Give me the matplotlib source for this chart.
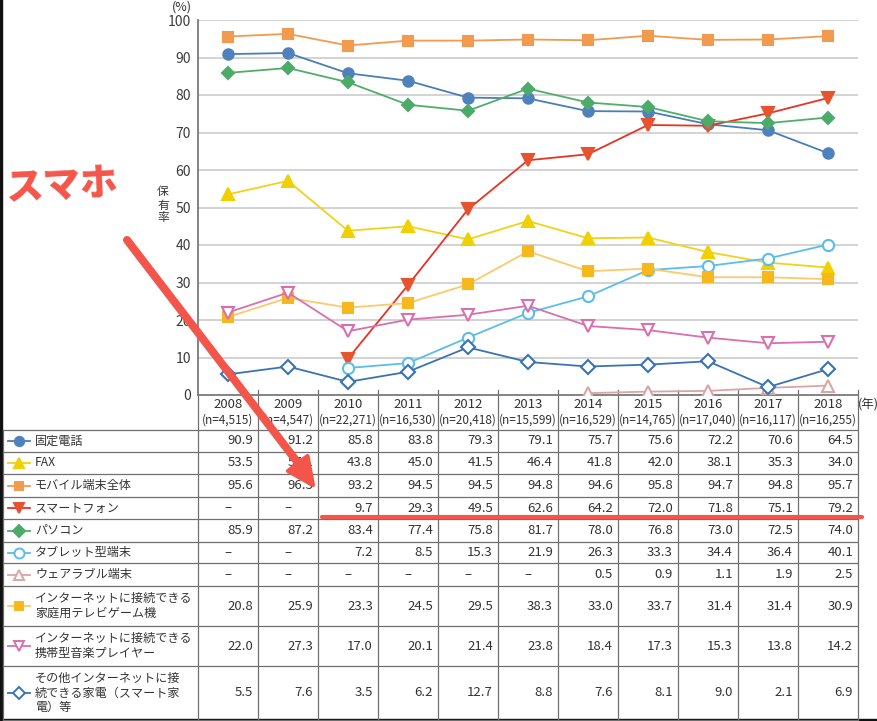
import numpy as np
import matplotlib
matplotlib.use('Agg')
import matplotlib.pyplot as plt
from matplotlib.patches import Polygon

plt.rcParams['font.family'] = ['Noto Sans CJK JP', 'DejaVu Sans']

# data
years = [2008, 2009, 2010, 2011, 2012, 2013, 2014, 2015, 2016, 2017, 2018]
sample_n = ['4,515', '4,547', '22,271', '16,530', '20,418', '15,599',
            '16,529', '14,765', '17,040', '16,117', '16,255']
nan = np.nan
fixed_phone = [90.9, 91.2, 85.8, 83.8, 79.3, 79.1, 75.7, 75.6, 72.2, 70.6, 64.5]
fax = [53.5, 57.1, 43.8, 45.0, 41.5, 46.4, 41.8, 42.0, 38.1, 35.3, 34.0]
mobile_all = [95.6, 96.3, 93.2, 94.5, 94.5, 94.8, 94.6, 95.8, 94.7, 94.8, 95.7]
smartphone = [nan, nan, 9.7, 29.3, 49.5, 62.6, 64.2, 72.0, 71.8, 75.1, 79.2]
pc = [85.9, 87.2, 83.4, 77.4, 75.8, 81.7, 78.0, 76.8, 73.0, 72.5, 74.0]
tablet = [nan, nan, 7.2, 8.5, 15.3, 21.9, 26.3, 33.3, 34.4, 36.4, 40.1]
wearable = [nan, nan, nan, nan, nan, nan, 0.5, 0.9, 1.1, 1.9, 2.5]
game = [20.8, 25.9, 23.3, 24.5, 29.5, 38.3, 33.0, 33.7, 31.4, 31.4, 30.9]
music = [22.0, 27.3, 17.0, 20.1, 21.4, 23.8, 18.4, 17.3, 15.3, 13.8, 14.2]
other = [5.5, 7.6, 3.5, 6.2, 12.7, 8.8, 7.6, 8.1, 9.0, 2.1, 6.9]

labels = ['固定電話', 'FAX', 'モバイル端末全体', 'スマートフォン', 'パソコン',
          'タブレット型端末', 'ウェアラブル端末',
          'インターネットに接続できる\n家庭用テレビゲーム機',
          'インターネットに接続できる\n携帯型音楽プレイヤー',
          'その他インターネットに接\n続できる家電（スマート家\n電）等']
series = [fixed_phone, fax, mobile_all, smartphone, pc, tablet, wearable,
          game, music, other]

# style per series: line colour, marker, marker face, marker edge, size
styles = [
    ('#4a7ebb', 'o', '#4f81bd', '#4f81bd', 7.5),
    ('#f0d21a', '^', '#f0d000', '#f0d000', 8),
    ('#f19a50', 's', '#f29a4e', '#f29a4e', 7),
    ('#e63422', 'v', '#e8532f', '#e8532f', 8),
    ('#4fae69', 'D', '#4dab6a', '#4dab6a', 6.5),
    ('#5bbde8', 'o', 'white', '#5bbde8', 8),
    ('#dba5a5', '^', 'white', '#dba5a5', 8),
    ('#fcc96b', 's', '#f7b81e', '#f7b81e', 7),
    ('#d96fae', 'v', 'white', '#d96fae', 8),
    ('#3a73b4', 'D', 'white', '#3a73b4', 7),
]

W, H = 877, 721
fig = plt.figure(figsize=(W / 100, H / 100), dpi=100)

# background axes in pixel coordinates for the table
bg = fig.add_axes([0, 0, 1, 1])
bg.set_xlim(0, W)
bg.set_ylim(H, 0)
bg.axis('off')

x0, x1 = 198, 858
colw = 60
y_top, y_bot = 20, 395
ax = fig.add_axes([x0 / W, (H - y_bot) / H, (x1 - x0) / W, (y_bot - y_top) / H])
ax.patch.set_alpha(0)
ax.set_xlim(2007.5, 2018.5)
ax.set_ylim(0, 100)
for s in ['top', 'right']:
    ax.spines[s].set_visible(False)
for s in ['left', 'bottom']:
    ax.spines[s].set_color('#7a7a7a')
    ax.spines[s].set_linewidth(1.3)
ax.set_xticks([])
ax.set_yticks(range(0, 101, 10))
ax.tick_params(axis='y', length=0, pad=5, labelsize=10, labelcolor='#3c3c3c')
for g in range(10, 101, 10):
    ax.axhline(g, color='#cccccc', lw=1.2, zorder=0)

for vals, (lc, mk, mfc, mec, ms) in zip(series, styles):
    ax.plot(years, vals, color=lc, lw=1.3, marker=mk, markersize=ms,
            markerfacecolor=mfc, markeredgecolor=mec, markeredgewidth=1.5,
            zorder=3)

# table
line_c = '#707070'
rows = [430, 452, 474, 497, 519, 542, 563, 586, 626, 666, 720]
for r in rows:
    bg.plot([3, 857], [r, r], color=line_c, lw=0.9)
bg.plot([3, 3], [430, 720], color=line_c, lw=0.9)
bg.plot([x0, x0], [395, 720], color=line_c, lw=0.9)
for k in range(1, 12):
    xx = x0 + colw * k
    bg.plot([xx, xx], [390, 720], color=line_c, lw=0.9)

txt_c = '#333333'
for k, (yr, n) in enumerate(zip(years, sample_n)):
    cx = x0 + colw * k + colw / 2
    bg.text(cx, 405, str(yr), ha='center', va='center', fontsize=9.5, color=txt_c)
    bg.text(cx, 420, '(n=%s)' % n, ha='center', va='center', fontsize=8.5, color=txt_c)
bg.text(868, 405, '(年)', ha='center', va='center', fontsize=9, color=txt_c)
bg.text(182, 7, '(%)', ha='center', va='center', fontsize=9, color=txt_c)
bg.text(163, 205, '保\n有\n率', ha='center', va='center', fontsize=8.5,
        linespacing=1.0, color=txt_c)

for i, (lab, vals, (lc, mk, mfc, mec, ms)) in enumerate(zip(labels, series, styles)):
    cy = (rows[i] + rows[i + 1]) / 2
    bg.plot([8, 30], [cy, cy], color=lc, lw=1.3)
    bg.plot([19], [cy], marker=mk, markersize=ms * 0.9, markerfacecolor=mfc,
            markeredgecolor=mec, markeredgewidth=1.4)
    bg.text(35, cy, lab, ha='left', va='center', fontsize=8.7, color=txt_c,
            linespacing=1.15)
    for k, v in enumerate(vals):
        if np.isnan(v):
            bg.text(x0 + colw * k + colw / 2, cy, '–', ha='center', va='center',
                    fontsize=9.5, color=txt_c)
        else:
            bg.text(x0 + colw * (k + 1) - 5, cy, '%.1f' % v, ha='right',
                    va='center', fontsize=9.5, color=txt_c)

# frame edges of the screenshot
bg.fill_between([0, 2], 0, H, color='#111111')
bg.fill_between([0, W], 719, H, color='#111111')

# handwritten annotation overlay
ov = fig.add_axes([0, 0, 1, 1])
ov.set_xlim(0, W)
ov.set_ylim(H, 0)
ov.axis('off')
ov.patch.set_alpha(0)
red = '#f4554a'
ov.text(62, 186, 'スマホ', ha='center', va='center', fontsize=27,
        fontweight='heavy', color=red, rotation=3)
ov.plot([127, 308], [240, 476], color=red, lw=5.8, solid_capstyle='round')
ov.add_patch(Polygon([[313, 485], [288, 471], [307.5, 456]], closed=True,
                     facecolor=red, edgecolor=red, lw=3, joinstyle='round'))
ov.plot([322, 862], [517, 517], color=red, lw=3, solid_capstyle='round')

fig.savefig('out.png', dpi=100)
